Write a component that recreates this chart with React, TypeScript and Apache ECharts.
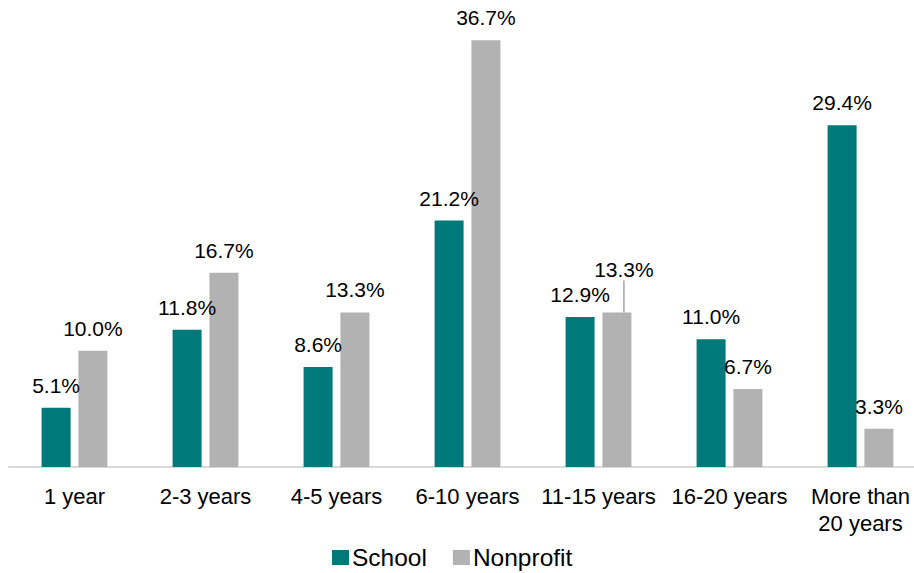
import React, { useEffect, useRef } from "react";
import * as echarts from "echarts";

const categories = ["1 year", "2-3 years", "4-5 years", "6-10 years", "11-15 years", "16-20 years", "More than\n20 years"];
const schoolValues = [5.1, 11.8, 8.6, 21.2, 12.9, 11.0, 29.4];
const nonprofitValues = [10.0, 16.7, 13.3, 36.7, 13.3, 6.7, 3.3];
const seriesNames = ["School", "Nonprofit"];
const movedLabelIndex = 4;

const FONT = "'Liberation Sans', Arial, sans-serif";

export default function App() {
  const ref = useRef<HTMLDivElement>(null);
  useEffect(() => {
    if (!ref.current) return;
    const chart = echarts.init(ref.current, undefined, { renderer: "svg" });
    const labelCommon = {
      show: true,
      position: "top" as const,
      distance: 12,
      color: "#000",
      fontSize: 21,
      fontFamily: FONT,
      formatter: (p: any) => Number(p.value).toFixed(1) + "%",
    };
    chart.setOption({
      animation: false,
      backgroundColor: "#fff",
      textStyle: { fontFamily: FONT },
      grid: { left: 9, right: 0, top: 2, bottom: 106, containLabel: false },
      legend: {
        data: seriesNames,
        left: 332,
        top: 545,
        padding: 0,
        itemWidth: 17,
        itemHeight: 15,
        itemGap: 26,
        icon: "rect",
        textStyle: { fontSize: 24.5, color: "#000", fontFamily: FONT, padding: [0, 0, 0, -2] },
      },
      xAxis: {
        type: "category",
        data: categories,
        axisLine: { lineStyle: { color: "#D9D9D9", width: 2 } },
        axisTick: { show: false },
        axisLabel: {
          color: "#000",
          fontSize: 22,
          fontFamily: FONT,
          margin: 16,
          lineHeight: 27,
          interval: 0,
        },
      },
      yAxis: {
        type: "value",
        min: 0,
        max: 40,
        show: false,
        splitLine: { show: false },
      },
      series: [
        {
          name: seriesNames[0],
          type: "bar",
          data: schoolValues,
          barWidth: 29,
          barGap: "27%",
          itemStyle: { color: "#00797A" },
          label: labelCommon,
        },
        {
          name: seriesNames[1],
          type: "bar",
          data: nonprofitValues.map((v, i) =>
            i === movedLabelIndex
              ? { value: v, labelLine: { show: true, lineStyle: { color: "#A6A6A6", width: 1.5 } } }
              : { value: v, labelLine: { show: false } }
          ),
          barWidth: 29,
          barGap: "27%",
          itemStyle: { color: "#B2B2B2" },
          label: labelCommon,
          labelLine: { show: false },
          labelLayout: (params: any) =>
            params.dataIndex === movedLabelIndex ? { dx: 7, dy: -20 } : {},
        },
      ],
    });
    return () => chart.dispose();
  }, []);
  return (
    <div
      ref={ref}
      style={{ position: "fixed", left: 0, top: 0, width: 926, height: 573 }}
    />
  );
}
